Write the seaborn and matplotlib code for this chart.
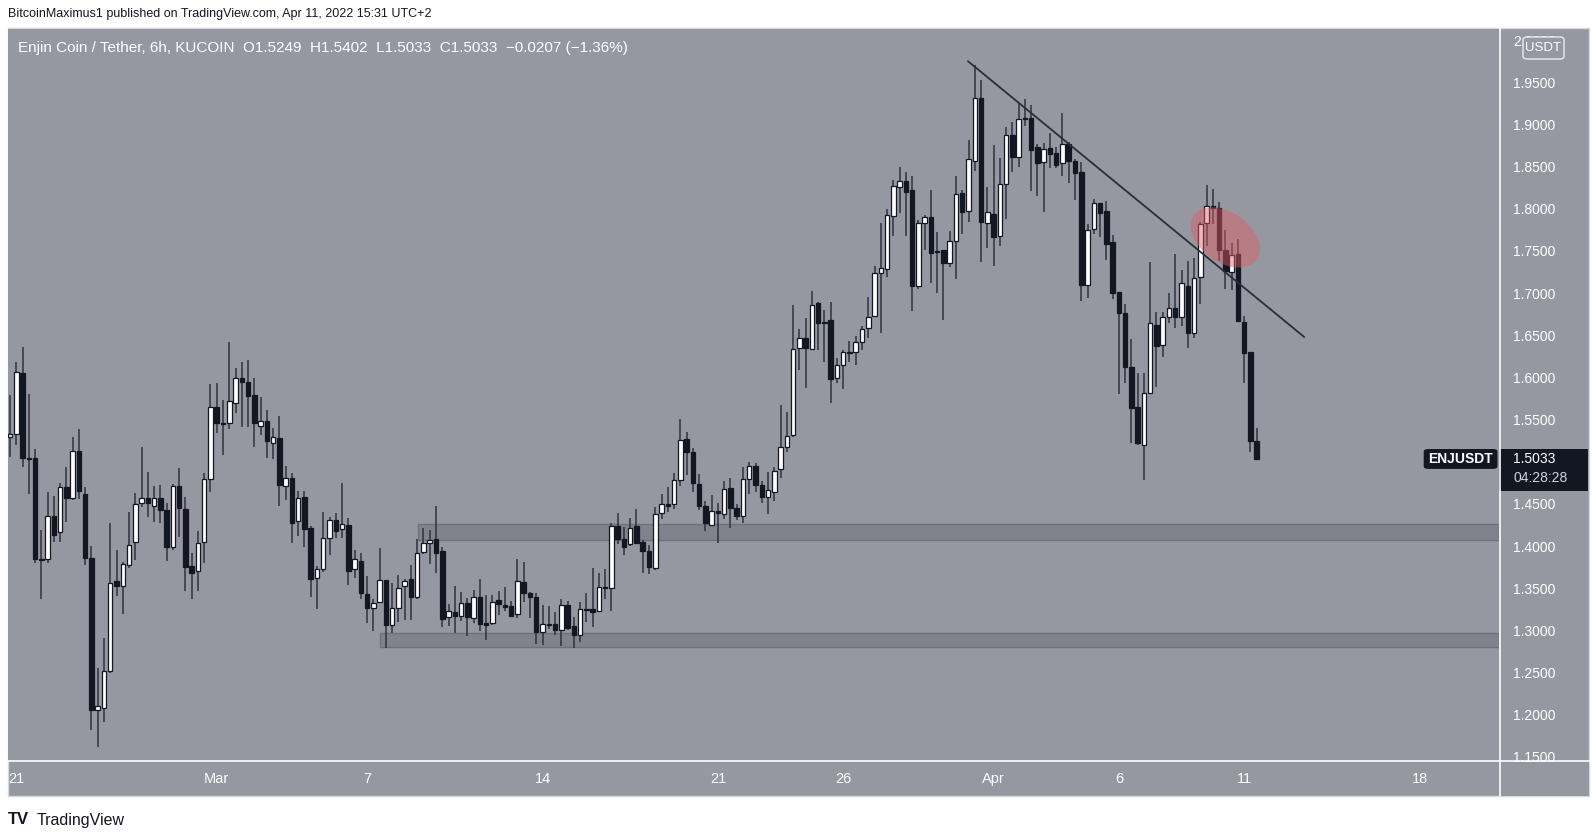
import numpy as np
import pandas as pd
import seaborn as sns
import matplotlib.pyplot as plt
import matplotlib.dates as mdates
from matplotlib.patches import Rectangle, Ellipse, FancyBboxPatch
from matplotlib.transforms import ScaledTranslation
from matplotlib.lines import Line2D

# %%
# ENJ/USDT 6h candles (first candle Feb 20 18:00)
start = "2022-02-20 18:00"

opens = [
    1.529, 1.533, 1.605, 1.505, 1.505, 1.385, 1.385, 1.436, 1.417, 1.470,
    1.457, 1.513, 1.462, 1.386, 1.206, 1.208, 1.252, 1.358, 1.353, 1.378,
    1.405, 1.451, 1.457, 1.447, 1.457, 1.443, 1.399, 1.471, 1.444, 1.376,
    1.370, 1.405, 1.480, 1.565, 1.546, 1.546, 1.570, 1.599, 1.595, 1.579,
    1.542, 1.548, 1.522, 1.528, 1.471, 1.481, 1.430, 1.458, 1.421, 1.362,
    1.373, 1.410, 1.431, 1.420, 1.425, 1.373, 1.382, 1.343, 1.326, 1.334,
    1.360, 1.306, 1.326, 1.353, 1.361, 1.340, 1.393, 1.404, 1.408, 1.394,
    1.316, 1.322, 1.317, 1.332, 1.315, 1.340, 1.309, 1.309, 1.336, 1.330,
    1.329, 1.319, 1.357, 1.344, 1.340, 1.298, 1.308, 1.308, 1.300, 1.330,
    1.305, 1.295, 1.325, 1.325, 1.323, 1.351, 1.350, 1.424, 1.408, 1.402,
    1.424, 1.405, 1.394, 1.374, 1.439, 1.450, 1.450, 1.478, 1.527, 1.512,
    1.474, 1.447, 1.425, 1.442, 1.438, 1.469, 1.445, 1.436, 1.480, 1.495,
    1.472, 1.458, 1.464, 1.491, 1.517, 1.532, 1.635, 1.647, 1.634, 1.688,
    1.666, 1.668, 1.599, 1.615, 1.630, 1.630, 1.642, 1.659, 1.673, 1.724,
    1.729, 1.791, 1.826, 1.833, 1.822, 1.708, 1.783, 1.790, 1.750, 1.751,
    1.736, 1.762, 1.819, 1.797, 1.857, 1.931, 1.783, 1.794, 1.768, 1.829,
    1.888, 1.861, 1.908, 1.908, 1.873, 1.855, 1.872, 1.866, 1.854, 1.877,
    1.857, 1.844, 1.710, 1.776, 1.807, 1.797, 1.761, 1.701, 1.676, 1.612,
    1.565, 1.520, 1.581, 1.662, 1.638, 1.672, 1.682, 1.672, 1.708, 1.653,
    1.719, 1.783, 1.803, 1.801, 1.751, 1.725, 1.746, 1.666, 1.630, 1.5249,
]
highs = [
    1.579, 1.618, 1.636, 1.580, 1.515, 1.419, 1.464, 1.459, 1.475, 1.494,
    1.529, 1.539, 1.470, 1.400, 1.255, 1.291, 1.427, 1.395, 1.381, 1.440,
    1.463, 1.517, 1.488, 1.471, 1.472, 1.451, 1.474, 1.493, 1.458, 1.392,
    1.418, 1.487, 1.592, 1.593, 1.573, 1.642, 1.611, 1.618, 1.621, 1.599,
    1.577, 1.561, 1.540, 1.554, 1.495, 1.487, 1.465, 1.465, 1.424, 1.376,
    1.440, 1.434, 1.439, 1.475, 1.433, 1.395, 1.392, 1.364, 1.337, 1.398,
    1.360, 1.356, 1.366, 1.361, 1.378, 1.408, 1.421, 1.419, 1.447, 1.399,
    1.331, 1.353, 1.346, 1.338, 1.348, 1.361, 1.342, 1.342, 1.347, 1.351,
    1.335, 1.385, 1.381, 1.346, 1.344, 1.330, 1.329, 1.322, 1.337, 1.335,
    1.316, 1.334, 1.344, 1.374, 1.368, 1.373, 1.427, 1.439, 1.423, 1.433,
    1.444, 1.407, 1.401, 1.446, 1.462, 1.470, 1.487, 1.551, 1.535, 1.516,
    1.485, 1.453, 1.460, 1.451, 1.477, 1.481, 1.450, 1.494, 1.500, 1.498,
    1.477, 1.488, 1.494, 1.567, 1.559, 1.686, 1.657, 1.670, 1.702, 1.689,
    1.680, 1.689, 1.623, 1.633, 1.643, 1.649, 1.661, 1.695, 1.732, 1.783,
    1.800, 1.834, 1.850, 1.844, 1.839, 1.787, 1.793, 1.822, 1.772, 1.751,
    1.774, 1.839, 1.822, 1.882, 1.971, 1.953, 1.826, 1.876, 1.860, 1.897,
    1.903, 1.925, 1.930, 1.923, 1.877, 1.878, 1.890, 1.873, 1.914, 1.879,
    1.859, 1.855, 1.782, 1.812, 1.807, 1.809, 1.769, 1.701, 1.687, 1.646,
    1.605, 1.605, 1.737, 1.678, 1.678, 1.700, 1.746, 1.727, 1.738, 1.742,
    1.784, 1.828, 1.823, 1.808, 1.775, 1.760, 1.764, 1.673, 1.630, 1.5402,
]
lows = [
    1.506, 1.520, 1.494, 1.462, 1.380, 1.337, 1.380, 1.405, 1.405, 1.428,
    1.455, 1.456, 1.377, 1.182, 1.162, 1.191, 1.249, 1.341, 1.319, 1.374,
    1.383, 1.446, 1.434, 1.428, 1.427, 1.382, 1.395, 1.411, 1.347, 1.337,
    1.347, 1.380, 1.464, 1.534, 1.508, 1.539, 1.558, 1.541, 1.541, 1.517,
    1.532, 1.504, 1.503, 1.447, 1.455, 1.404, 1.412, 1.399, 1.340, 1.325,
    1.369, 1.389, 1.410, 1.410, 1.354, 1.362, 1.337, 1.309, 1.299, 1.334,
    1.279, 1.297, 1.310, 1.312, 1.312, 1.337, 1.391, 1.379, 1.368, 1.304,
    1.305, 1.297, 1.311, 1.293, 1.309, 1.299, 1.289, 1.306, 1.318, 1.323,
    1.316, 1.315, 1.334, 1.315, 1.284, 1.283, 1.302, 1.295, 1.281, 1.300,
    1.279, 1.286, 1.310, 1.304, 1.322, 1.337, 1.323, 1.402, 1.389, 1.400,
    1.402, 1.368, 1.367, 1.372, 1.432, 1.440, 1.444, 1.471, 1.484, 1.464,
    1.443, 1.418, 1.424, 1.404, 1.432, 1.421, 1.431, 1.427, 1.462, 1.464,
    1.451, 1.438, 1.453, 1.481, 1.512, 1.529, 1.609, 1.587, 1.633, 1.633,
    1.618, 1.570, 1.593, 1.586, 1.618, 1.615, 1.633, 1.647, 1.672, 1.653,
    1.719, 1.768, 1.795, 1.768, 1.679, 1.705, 1.751, 1.712, 1.700, 1.668,
    1.731, 1.717, 1.770, 1.784, 1.845, 1.737, 1.753, 1.732, 1.756, 1.788,
    1.844, 1.850, 1.898, 1.821, 1.815, 1.796, 1.848, 1.848, 1.839, 1.831,
    1.810, 1.691, 1.694, 1.770, 1.767, 1.739, 1.693, 1.580, 1.593, 1.522,
    1.520, 1.478, 1.581, 1.589, 1.624, 1.665, 1.659, 1.661, 1.635, 1.647,
    1.687, 1.756, 1.782, 1.738, 1.705, 1.704, 1.667, 1.593, 1.511, 1.5033,
]
closes = [
    1.533, 1.606, 1.504, 1.503, 1.385, 1.384, 1.436, 1.413, 1.470, 1.457,
    1.513, 1.465, 1.386, 1.206, 1.210, 1.252, 1.356, 1.353, 1.379, 1.401,
    1.450, 1.457, 1.451, 1.457, 1.443, 1.399, 1.471, 1.445, 1.375, 1.368,
    1.404, 1.480, 1.565, 1.546, 1.545, 1.572, 1.599, 1.595, 1.578, 1.546,
    1.548, 1.525, 1.529, 1.472, 1.481, 1.427, 1.457, 1.420, 1.361, 1.373,
    1.410, 1.431, 1.418, 1.426, 1.370, 1.385, 1.344, 1.326, 1.332, 1.360,
    1.306, 1.326, 1.350, 1.358, 1.340, 1.392, 1.404, 1.407, 1.392, 1.313,
    1.323, 1.317, 1.332, 1.316, 1.340, 1.308, 1.306, 1.334, 1.331, 1.328,
    1.317, 1.358, 1.344, 1.340, 1.298, 1.308, 1.306, 1.300, 1.330, 1.303,
    1.295, 1.325, 1.324, 1.322, 1.351, 1.350, 1.424, 1.408, 1.399, 1.421,
    1.404, 1.394, 1.375, 1.438, 1.450, 1.447, 1.478, 1.526, 1.512, 1.475,
    1.447, 1.427, 1.442, 1.439, 1.468, 1.445, 1.436, 1.480, 1.495, 1.472,
    1.458, 1.466, 1.489, 1.517, 1.531, 1.634, 1.647, 1.635, 1.686, 1.664,
    1.664, 1.598, 1.615, 1.630, 1.629, 1.642, 1.657, 1.672, 1.724, 1.730,
    1.793, 1.827, 1.833, 1.820, 1.708, 1.783, 1.790, 1.748, 1.749, 1.736,
    1.762, 1.818, 1.796, 1.859, 1.931, 1.784, 1.796, 1.767, 1.829, 1.888,
    1.861, 1.906, 1.906, 1.870, 1.854, 1.871, 1.865, 1.852, 1.877, 1.857,
    1.842, 1.710, 1.775, 1.807, 1.795, 1.758, 1.700, 1.676, 1.612, 1.564,
    1.522, 1.581, 1.665, 1.637, 1.672, 1.682, 1.672, 1.712, 1.653, 1.718,
    1.782, 1.803, 1.801, 1.751, 1.726, 1.745, 1.667, 1.629, 1.525, 1.5033,
]
change_abs = 0.0207
change_pct = 1.36
countdown = "04:28:28"

price_ticks = [1.15, 1.20, 1.25, 1.30, 1.35, 1.40, 1.45, 1.50, 1.55, 1.60,
               1.65, 1.70, 1.75, 1.80, 1.85, 1.90, 1.95, 2.00]
date_ticks = ["2022-02-21", "2022-03-01", "2022-03-07", "2022-03-14", "2022-03-21",
              "2022-03-26", "2022-04-01", "2022-04-06", "2022-04-11", "2022-04-18"]
date_labels = ["21", "Mar", "7", "14", "21", "26", "Apr", "6", "11", "18"]

# support zones (start time, low, high) and the descending trend line
zone_start = ["2022-03-09 01:00", "2022-03-07 12:30"]
zone_low = [1.407, 1.280]
zone_high = [1.426, 1.297]
trend_time = ["2022-03-30 23:30", "2022-04-13 09:30"]
trend_price = [1.975, 1.648]
circle_time = "2022-04-10 06:00"
circle_price = 1.766

# %%
BG = "#9598a1"
DARK = "#131722"
WICK = "#30333c"

sns.set_style("dark", {"axes.facecolor": BG})
plt.rcParams["font.family"] = ["Liberation Sans", "DejaVu Sans"]

W, H = 1593, 834
fig = plt.figure(figsize=(W / 100, H / 100), dpi=100)
fig.patch.set_facecolor("white")


def fx(px):
    return px / W


def fy(py):
    return 1 - py / H


# chart panel
fig.add_artist(Rectangle((fx(8), fy(796)), fx(1589) - fx(8), fy(28) - fy(796),
                         transform=fig.transFigure, facecolor=BG,
                         edgecolor="#d6d8de", lw=1, zorder=-1))

ax = fig.add_axes([fx(8), fy(761), fx(1499) - fx(8), fy(29) - fy(761)])
ax.set_facecolor(BG)
for s in ax.spines.values():
    s.set_visible(False)
ax.grid(False)

t = mdates.date2num(pd.date_range(start, periods=len(closes), freq="6h"))
o = np.array(opens)
hi = np.array(highs)
lo = np.array(lows)
c = np.array(closes)
up = c > o
body_lo = np.minimum(o, c)
body_h = np.maximum(np.abs(c - o), 0.0012)

ax.vlines(t, lo, hi, color=WICK, lw=1.1, zorder=3)
ax.bar(t[up], body_h[up], bottom=body_lo[up], width=0.18, color="white",
       edgecolor=DARK, linewidth=0.9, zorder=4)
ax.bar(t[~up], body_h[~up], bottom=body_lo[~up], width=0.18, color=DARK,
       edgecolor=DARK, linewidth=0.9, zorder=4)

x_left = mdates.date2num(pd.Timestamp("2022-02-20 16:05"))
x_right = mdates.date2num(pd.Timestamp("2022-04-21 04:05"))
ax.set_xlim(x_left, x_right)
ax.set_ylim(1.1451, 2.0132)

# support zones
for zs, zl, zh in zip(zone_start, zone_low, zone_high):
    x0 = mdates.date2num(pd.Timestamp(zs))
    ax.add_patch(Rectangle((x0, zl), x_right - x0, zh - zl, facecolor="#80838c",
                           edgecolor="#6f727a", lw=1, zorder=1))

# trend line
sns.lineplot(x=mdates.date2num(pd.to_datetime(trend_time)), y=trend_price, ax=ax,
             color="#2a2e39", lw=1.3, zorder=5)

# red highlight
cx = mdates.date2num(pd.Timestamp(circle_time))
ax.add_patch(Ellipse((0, 0), 0.77, 0.50, angle=-35,
                     transform=fig.dpi_scale_trans + ScaledTranslation(cx, circle_price, ax.transData),
                     facecolor="#e45a64", alpha=0.45, edgecolor="none", zorder=6))

# axes ticks (the 1.5000 label sits under the last price tag)
last = closes[-1]
ax.yaxis.tick_right()
ax.set_yticks(price_ticks)
ax.set_yticklabels(["" if abs(v - last) < 0.02 else f"{v:.4f}" for v in price_ticks])
ax.tick_params(axis="y", length=0, pad=10, labelcolor="white", labelsize=10)
ax.set_xticks(mdates.date2num(pd.to_datetime(date_ticks)))
ax.set_xticklabels(date_labels)
ax.tick_params(axis="x", length=0, pad=8, labelcolor="white", labelsize=10.5)
ax.set_xlabel("")
ax.set_ylabel("")

# last price tags
yt = ax.get_yaxis_transform()
ax.add_patch(FancyBboxPatch((0.9495, last - 0.0118), 0.0495, 0.0236, transform=yt,
                            boxstyle="round,pad=0,rounding_size=0.003",
                            facecolor=DARK, edgecolor="none", clip_on=False, zorder=10))
ax.text(0.974, last, "ENJUSDT", transform=yt, color="white", fontsize=10,
        fontweight="bold", ha="center", va="center", zorder=11)
ax.add_patch(Rectangle((1.0, last - 0.0375), 0.0595, 0.0495, transform=yt,
                       facecolor=DARK, edgecolor="none", clip_on=False, zorder=10))
ax.text(1.0094, last + 0.0005, f"{last:.4f}", transform=yt, color="white", fontsize=10,
        ha="left", va="center", zorder=11)
ax.text(1.0094, last - 0.0225, countdown, transform=yt, color="#d1d4dc", fontsize=10,
        ha="left", va="center", zorder=11)

# date strip below the price scale, separators
fig.add_artist(Rectangle((fx(1500), fy(796)), fx(1589) - fx(1500), fy(761.5) - fy(796),
                         transform=fig.transFigure, facecolor=BG, edgecolor="none", zorder=1.5))
fig.add_artist(Line2D([fx(8), fx(1589)], [fy(761), fy(761)], transform=fig.transFigure,
                      color="white", lw=1.2, zorder=3))
fig.add_artist(Line2D([fx(1499.5), fx(1499.5)], [fy(28), fy(796)], transform=fig.transFigure,
                      color="white", lw=1.2, zorder=3))

# currency box over the 2.0000 label
fig.add_artist(FancyBboxPatch((fx(1523), fy(59)), fx(1564) - fx(1523), fy(37) - fy(59),
                              transform=fig.transFigure,
                              boxstyle="round,pad=0,rounding_size=0.003",
                              facecolor=BG, edgecolor="#e8eaef", lw=1, zorder=2))
fig.text(fx(1543.5), fy(48), "USDT", color="white", fontsize=9.5, ha="center", va="center",
         zorder=4)

# header lines
header = (f"Enjin Coin / Tether, 6h, KUCOIN  O{opens[-1]:.4f}  H{highs[-1]:.4f}  "
          f"L{lows[-1]:.4f}  C{closes[-1]:.4f}  \u2212{change_abs:.4f} (\u2212{change_pct:.2f}%)")
fig.text(fx(18), fy(48), header, color="white", fontsize=11, va="center", zorder=4)
fig.text(fx(8), fy(14), "BitcoinMaximus1 published on TradingView.com, Apr 11, 2022 15:31 UTC+2",
         color="#131722", fontsize=9, va="center")
fig.text(fx(8), fy(820), "TV", color="#131722", fontsize=12, fontweight="heavy", va="center")
fig.text(fx(37), fy(820), "TradingView", color="#131722", fontsize=11.5, va="center")

fig.savefig("out.png", dpi=100, facecolor="white")
